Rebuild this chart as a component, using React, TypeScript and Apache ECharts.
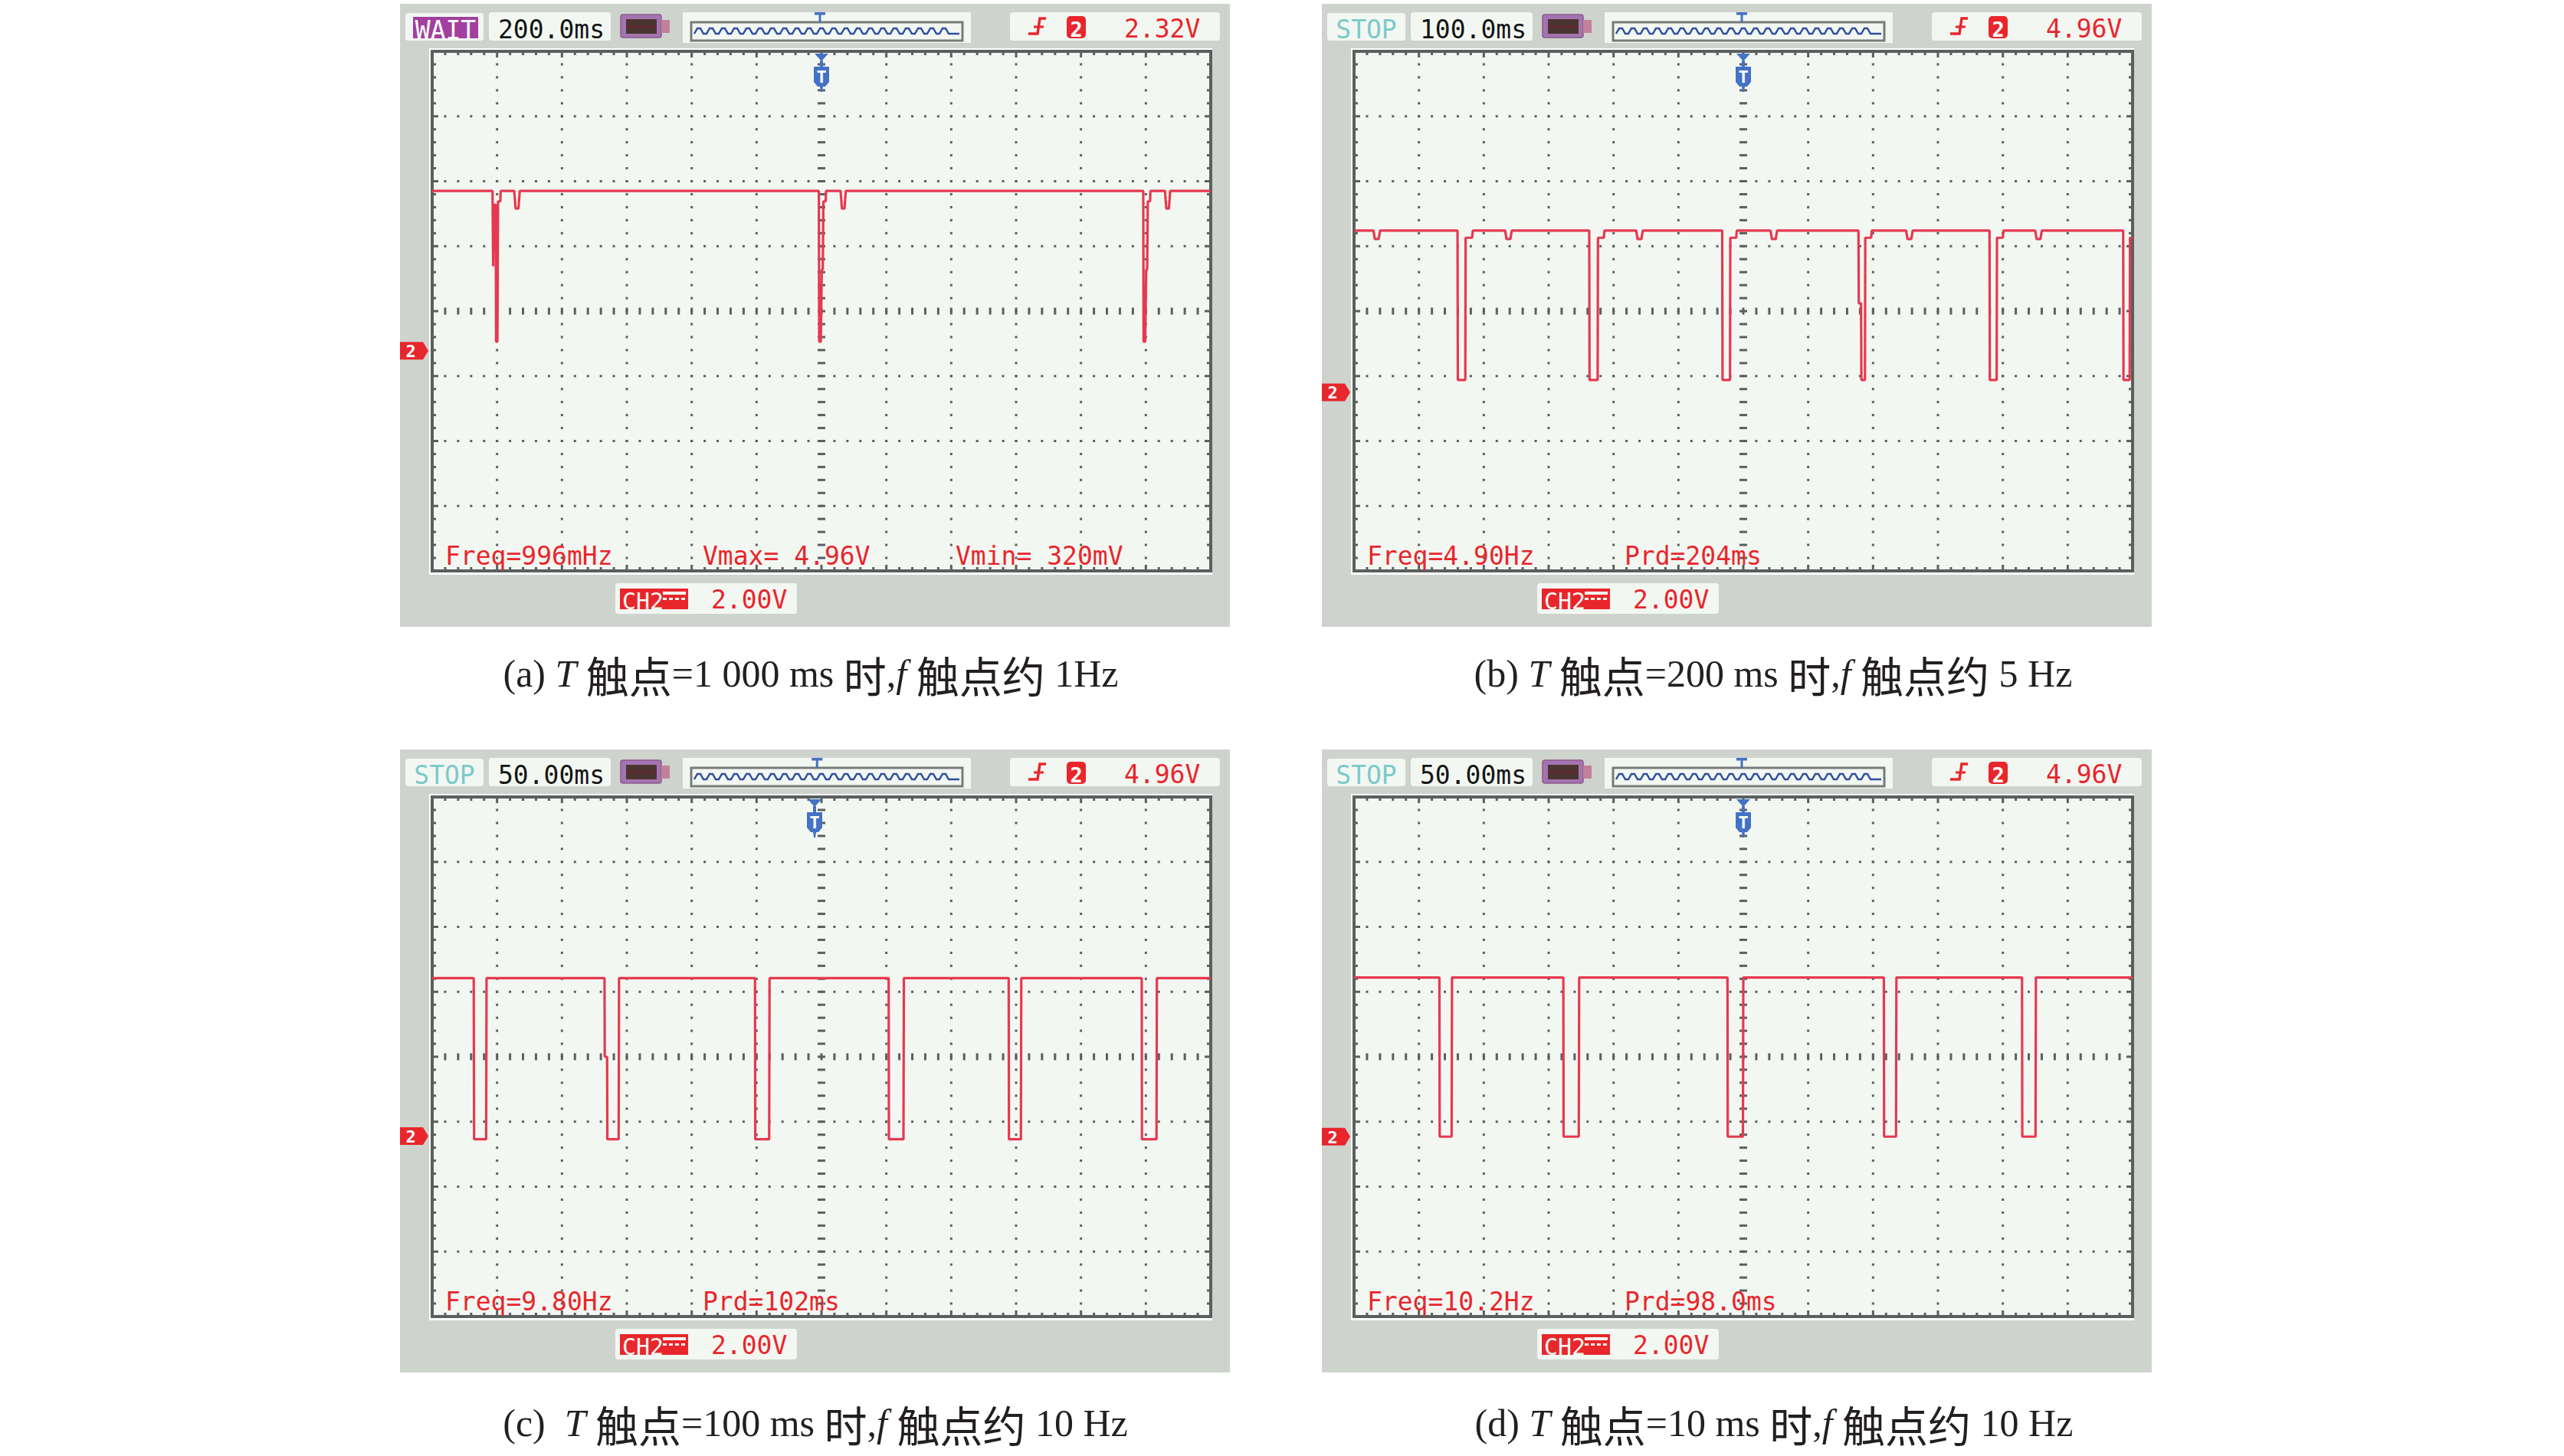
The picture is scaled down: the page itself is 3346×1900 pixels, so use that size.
import React, { useEffect, useRef } from "react";
import * as echarts from "echarts";

const CHART_W = 3346;
const CHART_H = 1900;

// ---------- data ----------
const modeLabels = ["WAIT", "STOP", "STOP", "STOP"];
const timebaseLabels = ["200.0ms", "100.0ms", "50.00ms", "50.00ms"];
const timebaseMs = [200, 100, 50, 50];
const triggerLevelLabels = ["2.32V", "4.96V", "4.96V", "4.96V"];
const channelLabel = "CH2";
const voltsPerDivLabel = "2.00V";
const voltsPerDiv = [2, 2, 2, 2];
const groundDiv = [3.39, 2.75, 2.78, 2.77];
const triggerDiv = [6, 6, 5.894, 6];
const measureLabels = [
  ["Freq=996mHz", "Vmax= 4.96V", "Vmin= 320mV"],
  ["Freq=4.90Hz", "Prd=204ms"],
  ["Freq=9.80Hz", "Prd=102ms"],
  ["Freq=10.2Hz", "Prd=98.0ms"],
];
const captionTags = ["(a) ", "(b) ", "(c)  ", "(d) "];
const captionPeriods = ["1 000", "200", "100", "10"];
const captionFreqs = ["1Hz", "5 Hz", "10 Hz", "10 Hz"];

// traces: [time ms, volts]
const traceA = [
  [0, 4.92], [186, 4.92], [188, 2.6], [191, 4.5], [196, 4.5], [197, 0.28], [201, 0.28], [203, 4.6], [210, 4.6], [211, 4.92],
  [253, 4.92], [257, 4.38], [266, 4.38], [270, 4.92],
  [1192, 4.92], [1193, 0.28], [1198, 0.28], [1201, 2.5], [1204, 2.5], [1206, 4.6], [1213, 4.6], [1214, 4.92],
  [1259, 4.92], [1263, 4.38], [1271, 4.38], [1275, 4.92],
  [2192, 4.92], [2193, 0.28], [2198, 0.28], [2201, 2.5], [2204, 2.5], [2206, 4.6], [2213, 4.6], [2214, 4.92],
  [2259, 4.92], [2263, 4.38], [2271, 4.38], [2275, 4.92],
  [2400, 4.92],
];
const traceB = [
  [0, 4.98], [30, 4.98], [32, 4.72], [38, 4.72], [40, 4.98],
  [159.5, 4.98], [160, 0.38], [171.5, 0.38], [172, 4.76], [182, 4.76], [183, 4.98],
  [233, 4.98], [235, 4.72], [241, 4.72], [243, 4.98],
  [362.5, 4.98], [363, 0.38], [375.5, 0.38], [376, 4.76], [385, 4.76], [386, 4.98],
  [435, 4.98], [437, 4.72], [443, 4.72], [445, 4.98],
  [567.5, 4.98], [568, 0.38], [579.5, 0.38], [580, 4.76], [589, 4.76], [590, 4.98],
  [642, 4.98], [644, 4.72], [650, 4.72], [652, 4.98],
  [777.5, 4.98], [778, 2.74], [781.5, 2.74], [782, 0.38], [787.5, 0.38], [788, 4.76], [797, 4.76], [798, 4.98],
  [851, 4.98], [853, 4.72], [859, 4.72], [861, 4.98],
  [979.5, 4.98], [980, 0.38], [990.5, 0.38], [991, 4.76], [1000, 4.76], [1001, 4.98],
  [1050, 4.98], [1052, 4.72], [1058, 4.72], [1060, 4.98],
  [1185.5, 4.98], [1186, 0.38], [1195.5, 0.38], [1196, 4.76], [1200, 4.76],
];
const traceC = [
  [0, 4.86], [32, 4.86], [32.3, -0.1], [41.6, -0.1], [41.9, 4.86],
  [132.8, 4.86], [133, 2.44], [134.8, 2.44], [135, -0.1], [143.7, -0.1], [144, 4.86],
  [248.8, 4.86], [249, -0.1], [259.7, -0.1], [260, 4.86],
  [351.8, 4.86], [352, -0.1], [363.2, -0.1], [363.5, 4.86],
  [444.3, 4.86], [444.5, -0.1], [453.7, -0.1], [454, 4.86],
  [546.8, 4.86], [547, -0.1], [558.2, -0.1], [558.5, 4.86],
  [600, 4.86],
];
const traceD = [
  [0, 4.9], [65.8, 4.9], [66, 0], [75.2, 0], [75.5, 4.9],
  [161.3, 4.9], [161.5, 0], [173.2, 0], [173.5, 4.9],
  [287.8, 4.9], [288, 0], [299.7, 0], [300, 4.9],
  [408.3, 4.9], [408.5, 0], [417.7, 0], [418, 4.9],
  [514.8, 4.9], [515, 0], [525.2, 0], [525.5, 4.9],
  [600, 4.9],
];
const traces = [traceA, traceB, traceC, traceD];

// ---------- layout / style ----------
const PANEL_DX = [0, 1203, 0, 1203];
const PANEL_DY = [0, 0, 973, 973];
const CAPTION_POS = [[1058, 879], [2314, 879], [1064, 1857], [2315, 1857]];
const GRID_L = 564, GRID_T = 67, GRID_W = 1016, GRID_H = 678;
const MEASURE_X = [581, 917, 1247];

const C_FRAME = "#cfd3ce";
const C_PANEL = "#f3f7f2";
const C_DOT = "#5a5f5f";
const C_RED = "#e8262c";
const C_TRACE = "#e63950";
const C_BLUE = "#4472c4";
const C_CAP = "#231f20";
const MONO = '"DejaVu Sans Mono", "Liberation Mono", monospace';
const F_LATIN = '50px "Liberation Serif", serif';
const F_ITAL = 'italic 50px "Liberation Serif", serif';
const F_CJK = '56px "Noto Sans CJK SC", sans-serif';

let measureCtx: CanvasRenderingContext2D | null = null;
function textWidth(t: string, font: string) {
  if (!measureCtx) measureCtx = document.createElement("canvas").getContext("2d");
  if (!measureCtx) return t.length * 25;
  measureCtx.font = font;
  return measureCtx.measureText(t).width;
}

function captionElements(g: number) {
  const segs: [string, string][] = [
    [captionTags[g], F_LATIN], ["T", F_ITAL], [" ", F_LATIN], ["触点", F_CJK],
    [`=${captionPeriods[g]} ms `, F_LATIN], ["时", F_CJK], [",", F_LATIN], ["f", F_ITAL],
    [" ", F_LATIN], ["触点约", F_CJK], [` ${captionFreqs[g]}`, F_LATIN],
  ];
  const widths = segs.map(([t, f]) => textWidth(t, f));
  const total = widths.reduce((a, b) => a + b, 0);
  const [cx, cy] = CAPTION_POS[g];
  let x = cx - total / 2;
  const els: any[] = [];
  segs.forEach(([t, f], i) => {
    if (t.trim().length > 0) {
      els.push({
        type: "text", silent: true, z: 10, x, y: cy,
        style: { text: t, fill: C_CAP, font: f, align: "left", verticalAlign: "middle" },
      });
    }
    x += widths[i];
  });
  return els;
}

function panelGraphics(g: number) {
  const dx = PANEL_DX[g], dy = PANEL_DY[g];
  const els: any[] = [];
  const rect = (x: number, y: number, w: number, h: number, style: any, r = 0, z = 0) =>
    els.push({ type: "rect", silent: true, z, shape: { x: x + dx, y: y + dy, width: w, height: h, r }, style });
  const text = (x: number, y: number, t: string, fill: string, size = 33, align = "left", weight = "normal", z = 10) =>
    els.push({
      type: "text", silent: true, z, x: x + dx, y: y + dy,
      style: { text: t, fill, font: `${weight} ${size}px ${MONO}`, align, verticalAlign: "middle" },
    });
  const poly = (pts: number[][], stroke: string, lw: number, z = 1) =>
    els.push({ type: "polyline", silent: true, z, shape: { points: pts.map((p) => [p[0] + dx, p[1] + dy]) }, style: { stroke, lineWidth: lw, fill: "none" } });

  // frame & screen
  rect(522, 5, 1083, 813, { fill: C_FRAME });
  rect(560, 63, 1022, 687, { fill: "#fdfffc" });
  rect(GRID_L, GRID_T, GRID_W, GRID_H, { fill: C_PANEL });

  // mode box
  rect(529, 17, 102, 36, { fill: C_PANEL }, 4);
  if (modeLabels[g] === "WAIT") {
    rect(539, 22, 85, 28, { fill: "#a23f9f" });
    text(581.5, 39, modeLabels[g], "#ffffff", 33, "center");
  } else {
    text(580, 38.5, modeLabels[g], "#7bcaca", 33, "center");
  }
  // timebase
  rect(638, 16, 159, 37, { fill: C_PANEL }, 4);
  text(650, 38, timebaseLabels[g], "#141414");
  // battery
  rect(810, 19, 53, 30, { fill: "#a474b0", stroke: "#8a5a8c", lineWidth: 1.5 }, 3);
  rect(817, 25, 40, 19, { fill: "#4b3530" });
  rect(817, 33, 40, 3, { fill: "#5e2a32" });
  rect(863, 26, 11, 17, { fill: "#c3809a" });
  // trigger position bar
  rect(891, 16, 376, 40, { fill: C_PANEL });
  rect(902, 29, 354, 24, { fill: "none", stroke: "#777c7b", lineWidth: 3 }, 0, 1);
  const wave: number[][] = [];
  for (let x = 906; x + 16 <= 1254; x += 16) {
    wave.push([x, 44], [x + 4, 37], [x + 8, 37], [x + 12, 44]);
  }
  wave.push([1252, 44]);
  poly(wave, "#2f4f9f", 2.5, 2);
  const bt = 1070 + (triggerDiv[g] - 6) * 35;
  rect(bt - 7, 16, 14, 3.5, { fill: C_BLUE }, 0, 2);
  rect(bt - 1.5, 16, 3, 13, { fill: C_BLUE }, 0, 2);
  // trigger info
  rect(1318, 16, 274, 37, { fill: C_PANEL }, 4);
  poly([[1342, 44], [1354, 44], [1357, 24], [1365, 24]], C_RED, 3.5, 2);
  poly([[1349, 35], [1362, 35]], C_RED, 3, 2);
  rect(1392, 21, 25, 29, { fill: C_RED }, 5, 2);
  text(1404.5, 38, "2", "#ffffff", 27, "center", "bold");
  text(1467, 37, triggerLevelLabels[g], C_RED);
  // channel box
  rect(803, 761, 237, 40, { fill: C_PANEL }, 4);
  rect(809, 768, 89, 27, { fill: C_RED }, 0, 2);
  text(812, 784, channelLabel, C_PANEL, 30, "left", "normal", 11);
  rect(865, 772, 30, 4, { fill: C_PANEL }, 0, 11);
  for (let k = 0; k < 4; k++) rect(865 + k * 8, 780, 5, 3, { fill: C_PANEL }, 0, 11);
  text(928, 782, voltsPerDivLabel, C_RED);
  // measurements
  measureLabels[g].forEach((m, i) => text(MEASURE_X[i], 725.5, m, C_RED));

  els.push(...captionElements(g));
  return els;
}

function renderGraticule(params: any, api: any) {
  const P = (x: number, y: number) => api.coord([x, y]);
  const ch: any[] = [];
  const r = (x: number, y: number, w: number, h: number) =>
    ch.push({ type: "rect", shape: { x, y, width: w, height: h }, style: { fill: C_DOT } });
  const [x0, y0] = P(0, 8);
  const [x1, y1] = P(12, 0);
  for (let i = 1; i < 12; i++) {
    for (let k = 1; k < 40; k++) {
      const [px, py] = P(i, k / 5);
      if (i === 6) r(px - 5, py - 1.5, 10, 3);
      else r(px - 1.5, py - 1.5, 3, 3);
    }
  }
  for (let j = 1; j < 8; j++) {
    for (let k = 1; k < 60; k++) {
      const [px, py] = P(k / 5, j);
      if (j === 4) r(px - 1.5, py - 4.5, 3, 9);
      else r(px - 1.5, py - 1.5, 3, 3);
    }
  }
  for (let k = 1; k < 60; k++) {
    const px = P(k / 5, 0)[0];
    const len = k % 5 === 0 ? 8 : 5;
    r(px - 1.5, y0, 3, len);
    r(px - 1.5, y1 - len, 3, len);
  }
  for (let k = 1; k < 40; k++) {
    const py = P(0, k / 5)[1];
    const len = k % 5 === 0 ? 8 : 5;
    r(x0, py - 1.5, len, 3);
    r(x1 - len, py - 1.5, len, 3);
  }
  ch.push({
    type: "rect",
    shape: { x: x0, y: y0, width: x1 - x0, height: y1 - y0 },
    style: { fill: "none", stroke: C_DOT, lineWidth: 4 },
  });
  return { type: "group", children: ch };
}

function renderMarkers(params: any, api: any) {
  const t = api.value(0);
  const cs = params.coordSys;
  const [gx, gy] = api.coord([0, 0]);
  const tx = api.coord([t, 0])[0];
  const top = cs.y;
  return {
    type: "group",
    children: [
      {
        type: "polygon",
        shape: { points: [[gx - 42, gy - 11.5], [gx - 12, gy - 11.5], [gx - 5, gy], [gx - 12, gy + 11.5], [gx - 42, gy + 11.5]] },
        style: { fill: C_RED },
      },
      {
        type: "text", x: gx - 28, y: gy + 1,
        style: { text: "2", fill: "#ffffff", font: `bold 22px ${MONO}`, align: "center", verticalAlign: "middle" },
      },
      { type: "polygon", shape: { points: [[tx - 9, top + 3], [tx + 9, top + 3], [tx, top + 13]] }, style: { fill: C_BLUE } },
      { type: "rect", shape: { x: tx - 2, y: top + 12, width: 4, height: 9 }, style: { fill: C_BLUE } },
      {
        type: "polygon",
        shape: {
          points: [[tx - 10, top + 20], [tx + 10, top + 20], [tx + 10, top + 40], [tx + 5, top + 46], [tx + 2, top + 46],
            [tx + 1, top + 53], [tx - 1, top + 53], [tx - 2, top + 46], [tx - 5, top + 46], [tx - 10, top + 40]],
        },
        style: { fill: C_BLUE },
      },
      {
        type: "text", x: tx, y: top + 33,
        style: { text: "T", fill: "#ffffff", font: `bold 22px ${MONO}`, align: "center", verticalAlign: "middle" },
      },
    ],
  };
}

function buildOption() {
  const grid: any[] = [], xAxis: any[] = [], yAxis: any[] = [], series: any[] = [], graphics: any[] = [];
  for (let g = 0; g < 4; g++) {
    grid.push({
      left: GRID_L + PANEL_DX[g], top: GRID_T + PANEL_DY[g], width: GRID_W, height: GRID_H,
      containLabel: false, outerBoundsMode: "none", show: false,
    });
    xAxis.push({ type: "value", gridIndex: g, min: 0, max: 12, show: false });
    yAxis.push({ type: "value", gridIndex: g, min: 0, max: 8, show: false });
    xAxis.push({ type: "value", gridIndex: g, min: 0, max: 12 * timebaseMs[g], show: false });
    yAxis.push({
      type: "value", gridIndex: g,
      min: -groundDiv[g] * voltsPerDiv[g], max: (8 - groundDiv[g]) * voltsPerDiv[g], show: false,
    });
    series.push({
      type: "custom", xAxisIndex: 2 * g, yAxisIndex: 2 * g, data: [[0, 0]], silent: true, z: 3,
      renderItem: renderGraticule,
    });
    series.push({
      type: "line", xAxisIndex: 2 * g + 1, yAxisIndex: 2 * g + 1, data: traces[g],
      showSymbol: false, symbol: "none", silent: true, z: 5, clip: true,
      lineStyle: { color: C_TRACE, width: 3.2 },
    });
    series.push({
      type: "custom", xAxisIndex: 2 * g + 1, yAxisIndex: 2 * g + 1, silent: true, z: 6,
      data: [[triggerDiv[g] * timebaseMs[g], 0]], renderItem: renderMarkers,
    });
    graphics.push(...panelGraphics(g));
  }
  return {
    animation: false,
    backgroundColor: "#ffffff",
    grid, xAxis, yAxis, series,
    graphic: { elements: graphics },
  };
}

export default function App() {
  const ref = useRef<HTMLDivElement>(null);
  useEffect(() => {
    document.body.style.margin = "0";
    if (!ref.current) return;
    const chart = echarts.init(ref.current, undefined, { renderer: "svg" });
    chart.setOption(buildOption() as any);
    return () => chart.dispose();
  }, []);
  return <div ref={ref} style={{ width: CHART_W, height: CHART_H }} />;
}
